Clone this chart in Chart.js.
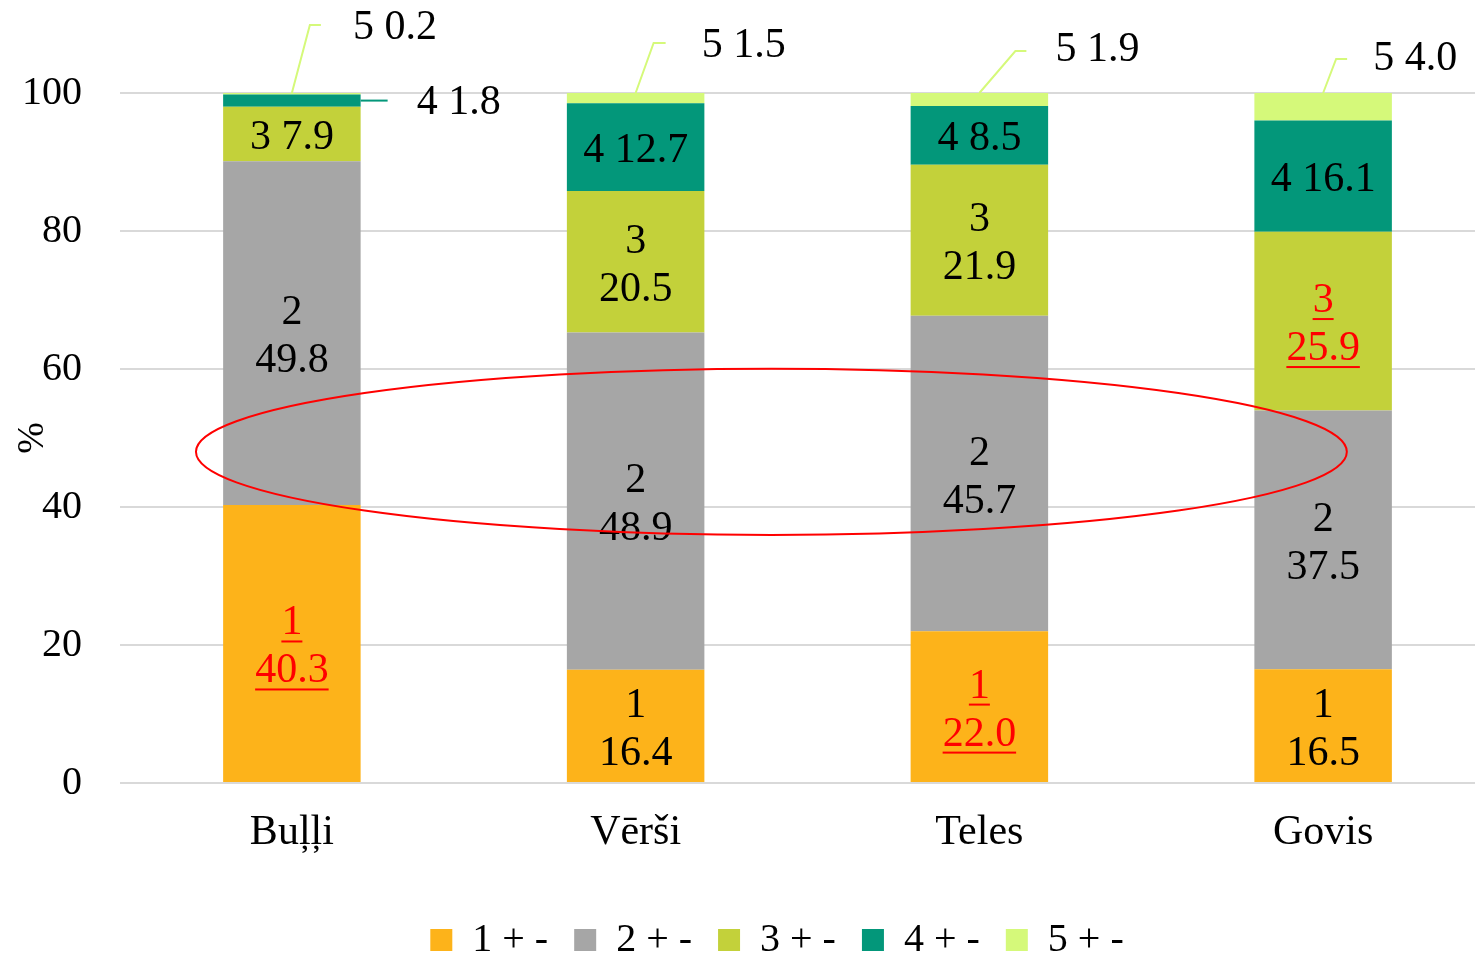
<!DOCTYPE html>
<html>
<head>
<meta charset="utf-8">
<style>
  html, body { margin: 0; padding: 0; background: #ffffff; overflow: hidden; }
  #wrap { width: 1475px; height: 955px; overflow: hidden; }
  canvas { display: block; }
</style>
<script src="https://cdn.jsdelivr.net/npm/chart.js@4.4.1/dist/chart.umd.min.js"></script>
</head>
<body>
<div id="wrap"><canvas id="chart" width="1560" height="1000"></canvas></div>
<script>
// Categories and the share (%) of each group in every category
const categories = ['Buļļi', 'Vērši', 'Teles', 'Govis'];
const group1 = [40.3, 16.4, 22.0, 16.5];
const group2 = [49.8, 48.9, 45.7, 37.5];
const group3 = [7.9, 20.5, 21.9, 25.9];
const group4 = [1.8, 12.7, 8.5, 16.1];
const group5 = [0.2, 1.5, 1.9, 4.0];
const seriesNames = ['1 + -', '2 + -', '3 + -', '4 + -', '5 + -'];
const yTicks = [0, 20, 40, 60, 80, 100];

// Highlighted ring (in category / value units)
const ringCenter = { x: 1.395, y: 48.0 };
const ringRadius = { x: 1.674, y: 12.05 };

const FONT = "'Liberation Serif', 'Times New Roman', serif";
const colors = ['#FDB31A', '#A6A6A6', '#C3D13A', '#03977A', '#D5F97A'];

// How each segment label is laid out: 'two' = number above value,
// 'one' = "n value" on one line, callouts are placed outside the bar.
const labelLayout = {
  '2:0': 'one', '3:1': 'one', '3:2': 'one', '3:3': 'one'
};
const redLabels = { '0:0': true, '0:2': true, '2:3': true };
const callouts = {
  '4:0': { anchor: 'top', elbow: [18, -68], end: [29, -68], text: [61, -65] },
  '4:1': { anchor: 'top', elbow: [18, -50], end: [30, -50], text: [66, -47] },
  '4:2': { anchor: 'top', elbow: [36, -42], end: [47, -42], text: [76, -43] },
  '4:3': { anchor: 'top', elbow: [13, -34], end: [24, -34], text: [50, -34] },
  '3:0': { anchor: 'right', elbow: [27, 0], end: [27, 0], text: [56, 2] }
};

function drawText(ctx, str, x, y, color, underline, align) {
  ctx.fillStyle = color;
  ctx.textAlign = align || 'center';
  ctx.textBaseline = 'middle';
  ctx.fillText(str, x, y);
  if (underline) {
    const w = ctx.measureText(str).width;
    const left = (align === 'left') ? x : x - w / 2;
    ctx.fillRect(left, y + 17, w, 2);
  }
}

const segmentLabels = {
  id: 'segmentLabels',
  afterDatasetsDraw(chart) {
    const ctx = chart.ctx;
    ctx.save();
    ctx.font = '42px ' + FONT;
    chart.data.datasets.forEach((ds, di) => {
      const meta = chart.getDatasetMeta(di);
      meta.data.forEach((bar, i) => {
        const key = di + ':' + i;
        const num = String(di + 1);
        const val = ds.data[i].toFixed(1);
        const red = !!redLabels[key];
        const color = red ? '#FF0000' : '#000000';
        const cy = (bar.y + bar.base) / 2;
        const co = callouts[key];
        if (co) {
          let ax, ay;
          if (co.anchor === 'right') { ax = bar.x + bar.width / 2; ay = cy; }
          else { ax = bar.x; ay = bar.y; }
          ctx.strokeStyle = colors[di];
          ctx.lineWidth = 2;
          ctx.beginPath();
          ctx.moveTo(ax, ay);
          ctx.lineTo(ax + co.elbow[0], ay + co.elbow[1]);
          ctx.lineTo(ax + co.end[0], ay + co.end[1]);
          ctx.stroke();
          drawText(ctx, num + ' ' + val, ax + co.text[0], ay + co.text[1], '#000000', false, 'left');
        } else if (labelLayout[key] === 'one') {
          drawText(ctx, num + ' ' + val, bar.x, cy + 4, color, red);
        } else {
          drawText(ctx, num, bar.x, cy - 20, color, red);
          drawText(ctx, val, bar.x, cy + 28, color, red);
        }
      });
    });
    // red ring
    const xs = chart.scales.x, ys = chart.scales.y;
    const x0 = xs.getPixelForValue(0), step = xs.getPixelForValue(1) - x0;
    const cx = x0 + ringCenter.x * step;
    const cyR = ys.getPixelForValue(ringCenter.y);
    const rx = ringRadius.x * step;
    const ry = Math.abs(ys.getPixelForValue(ringCenter.y + ringRadius.y) - cyR);
    ctx.strokeStyle = '#FF0000';
    ctx.lineWidth = 2;
    ctx.beginPath();
    ctx.ellipse(cx, cyR, rx, ry, 0, 0, Math.PI * 2);
    ctx.stroke();
    ctx.restore();
  }
};

const groups = [group1, group2, group3, group4, group5];

new Chart(document.getElementById('chart'), {
  type: 'bar',
  data: {
    labels: categories,
    datasets: groups.map((g, k) => ({
      label: seriesNames[k],
      data: g,
      backgroundColor: colors[k],
      borderWidth: 0,
      barPercentage: 0.4,
      categoryPercentage: 1.0
    }))
  },
  options: {
    responsive: false,
    animation: false,
    devicePixelRatio: 1,
    layout: { padding: { top: 93, right: 6, left: 0, bottom: 30 } },
    plugins: {
      legend: {
        position: 'bottom',
        labels: {
          boxWidth: 22,
          boxHeight: 22,
          padding: 26,
          color: '#000000',
          font: { family: FONT, size: 40 }
        }
      },
      tooltip: { enabled: false }
    },
    scales: {
      x: {
        stacked: true,
        grid: { display: false, drawTicks: false },
        border: { display: false },
        ticks: { color: '#000000', padding: 25, font: { family: FONT, size: 42 } },
        afterFit(scale) { scale.height = 111; }
      },
      y: {
        stacked: true,
        min: 0,
        max: 100,
        afterBuildTicks(scale) { scale.ticks = yTicks.map(v => ({ value: v })); },
        grid: { color: '#D9D9D9', lineWidth: 2, drawTicks: false },
        border: { display: false },
        ticks: { color: '#000000', padding: 38, font: { family: FONT, size: 40 } },
        title: {
          display: true,
          text: '%',
          color: '#000000',
          padding: { top: 10, bottom: 0 },
          font: { family: FONT, size: 38 }
        },
        afterFit(scale) { scale.width = 120; }
      },
      // empty right-hand margin axis (keeps the plot area width, centres the legend)
      yRight: {
        type: 'linear',
        position: 'right',
        min: 0,
        max: 100,
        grid: { display: false, drawTicks: false },
        border: { display: false },
        ticks: { display: false },
        afterFit(scale) { scale.width = 59; }
      }
    }
  },
  plugins: [segmentLabels]
});
</script>
</body>
</html>
